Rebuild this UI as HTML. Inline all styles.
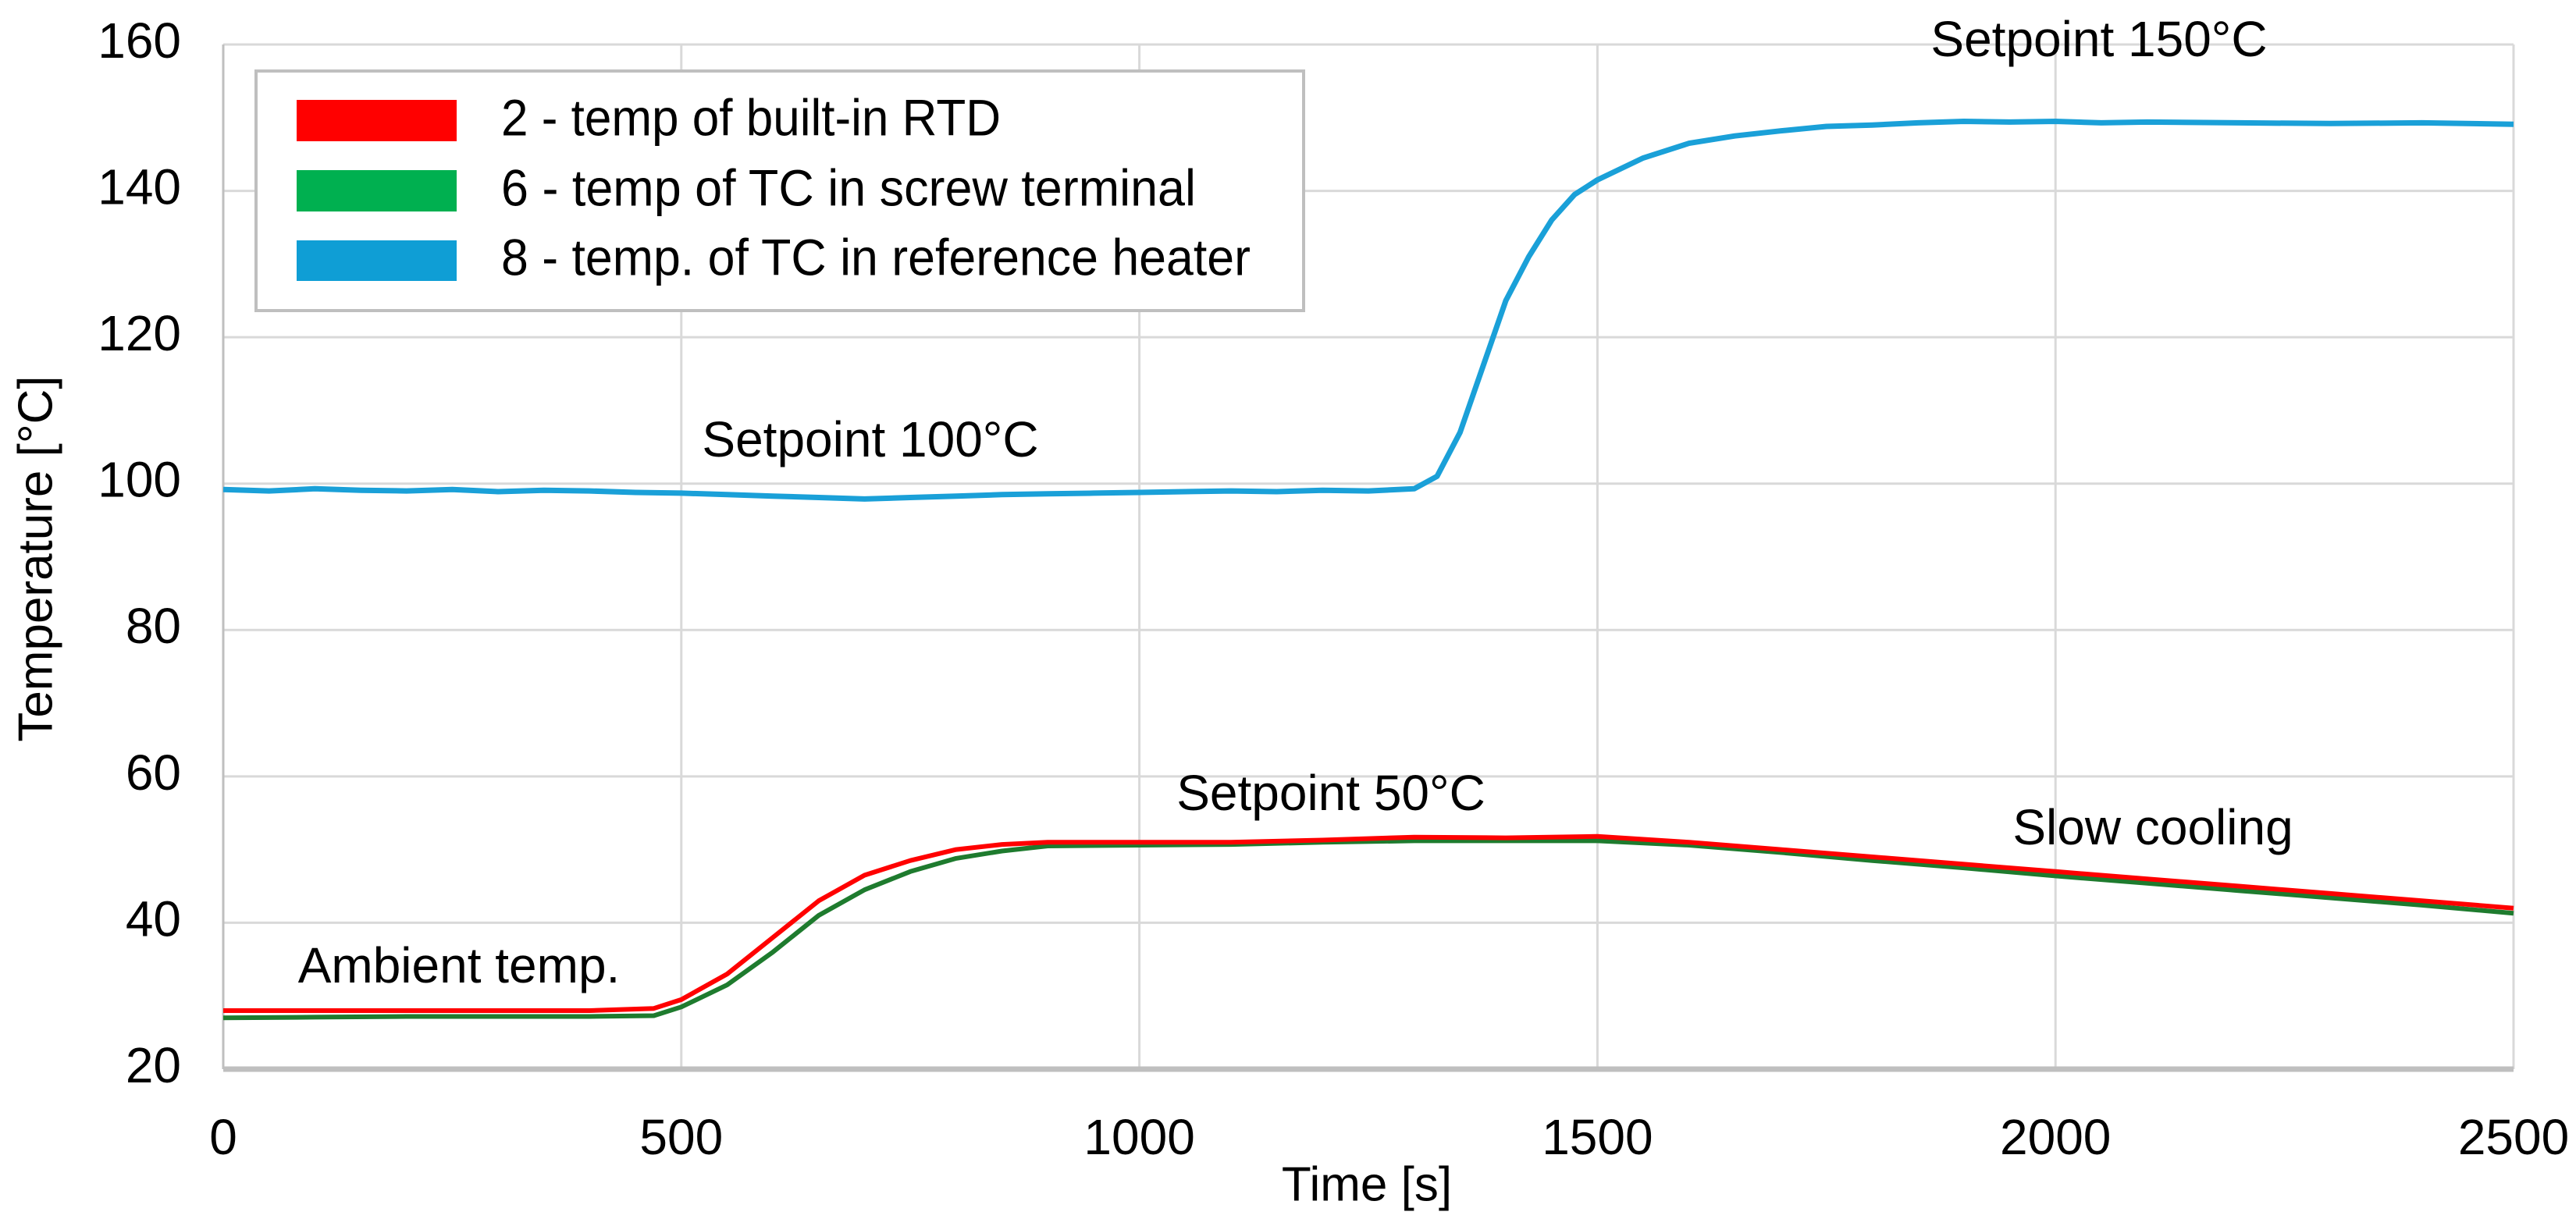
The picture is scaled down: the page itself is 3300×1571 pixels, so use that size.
<!DOCTYPE html>
<html><head><meta charset="utf-8"><style>
html,body{margin:0;padding:0;background:#fff;}
svg{display:block;font-family:"Liberation Sans",sans-serif;}
</style></head><body>
<svg id="chart" width="3300" height="1571" viewBox="0 0 3300 1571">
<g id="grid"></g>
<g id="series"></g>
<g id="axes"></g>
<text x="50" y="716" font-size="62" text-anchor="middle" transform="rotate(-90 50 716)" dominant-baseline="middle">Temperature [°C]</text>
<text x="1751" y="1522" font-size="62" text-anchor="middle" dominant-baseline="middle">Time [s]</text>
<g>
<text x="2689" y="55" font-size="64" text-anchor="middle" dominant-baseline="middle">Setpoint 150°C</text>
<text x="1115" y="568" font-size="64" text-anchor="middle" dominant-baseline="middle">Setpoint 100°C</text>
<text x="1705" y="1021" font-size="64" text-anchor="middle" dominant-baseline="middle">Setpoint 50°C</text>
<text x="2758" y="1065" font-size="64" text-anchor="middle" dominant-baseline="middle">Slow cooling</text>
<text x="588" y="1242" font-size="64" text-anchor="middle" dominant-baseline="middle">Ambient temp.</text>
</g>
<g>
<rect x="328" y="91" width="1342" height="307" fill="#fff" stroke="#bfbfbf" stroke-width="4"/>
<rect x="380" y="128" width="205" height="53" fill="#ff0000"/>
<rect x="380" y="218" width="205" height="53" fill="#00b050"/>
<rect x="380" y="308" width="205" height="52" fill="#0f9ed5"/>
<text x="642" y="156" font-size="66" dominant-baseline="middle" textLength="640" lengthAdjust="spacingAndGlyphs">2 - temp of built-in RTD</text>
<text x="642" y="246" font-size="66" dominant-baseline="middle" textLength="890" lengthAdjust="spacingAndGlyphs">6 - temp of TC in screw terminal</text>
<text x="642" y="335" font-size="66" dominant-baseline="middle" textLength="960" lengthAdjust="spacingAndGlyphs">8 - temp. of TC in reference heater</text>
</g>
</svg>
<script>
const xTicks = [0, 500, 1000, 1500, 2000, 2500];
const yTicks = [20, 40, 60, 80, 100, 120, 140, 160];
const tHeater = [0,50,100,150,200,250,300,350,400,450,500,550,600,650,700,750,800,850,900,950,1000,1050,1100,1150,1200,1250,1300,1325,1350,1375,1400,1425,1450,1475,1500,1550,1600,1650,1700,1750,1800,1850,1900,1950,2000,2050,2100,2200,2300,2400,2500];
const vHeater = [99.2,99,99.3,99.1,99,99.2,98.9,99.1,99,98.8,98.7,98.5,98.3,98.1,97.9,98.1,98.3,98.5,98.6,98.7,98.8,98.9,99,98.9,99.1,99,99.3,101,107,116,125,131,136,139.5,141.5,144.5,146.5,147.5,148.2,148.8,149,149.3,149.5,149.4,149.5,149.3,149.4,149.3,149.2,149.3,149.1];
const tLow = [0,100,200,300,400,470,500,550,600,650,700,750,800,850,900,1000,1100,1200,1300,1400,1500,1600,1700,1800,1900,2000,2100,2200,2300,2400,2500];
const vRtd = [28,28,28,28,28,28.3,29.5,33,38,43,46.5,48.5,50,50.7,51,51,51,51.3,51.7,51.6,51.8,51,50,49,48,47,46,45,44,43,42];
const vScrew = [27,27.1,27.2,27.2,27.2,27.3,28.5,31.5,36,41,44.5,47,48.8,49.8,50.5,50.6,50.7,51,51.2,51.2,51.2,50.6,49.6,48.5,47.5,46.4,45.4,44.4,43.4,42.4,41.3];

const X0=286, X1=3220, Y0=1370, Y1=57;
const xs = v => X0 + (v-0)/(2500-0)*(X1-X0);
const ys = v => Y0 - (v-20)/(160-20)*(Y0-Y1);
const NS="http://www.w3.org/2000/svg";
const grid=document.getElementById('grid'), axes=document.getElementById('axes'), series=document.getElementById('series');
function mk(tag, attrs, parent){const e=document.createElementNS(NS,tag);for(const k in attrs)e.setAttribute(k,attrs[k]);parent.appendChild(e);return e;}
yTicks.forEach(v=>{
  const l=mk('line',{x1:X0,x2:X1,y1:ys(v),y2:ys(v),stroke:v===20?'#bfbfbf':'#d9d9d9','stroke-width':v===20?7:3},v===20?axes:grid);
  
  
  const t=mk('text',{x:X0-54,y:ys(v),'font-size':64,'text-anchor':'end','dominant-baseline':'middle'},axes);
  t.textContent=v;
  
  
});
xTicks.forEach(v=>{
  const l=mk('line',{x1:xs(v),x2:xs(v),y1:Y1,y2:Y0,stroke:v===0?'#bfbfbf':'#d9d9d9','stroke-width':3},grid);
  
  
  const t=mk('text',{x:xs(v),y:1462,'font-size':64,'text-anchor':'middle','dominant-baseline':'middle'},axes);
  t.textContent=v;
  
  
});
function line(ts, vs, color, w, name){
  const d=ts.map((t,i)=>(i?'L':'M')+xs(t).toFixed(1)+','+ys(vs[i]).toFixed(1)).join('');
  const p=mk('path',{d:d,fill:'none',stroke:color,'stroke-width':w,'stroke-linejoin':'round'},series);
  
  
}
line(tLow, vScrew, '#1e7b2e', 6, 'line-screw-tc');
line(tLow, vRtd, '#ff0000', 6, 'line-rtd');
line(tHeater, vHeater, '#1aa0d8', 7, 'line-heater-tc');
</script>
</body></html>
